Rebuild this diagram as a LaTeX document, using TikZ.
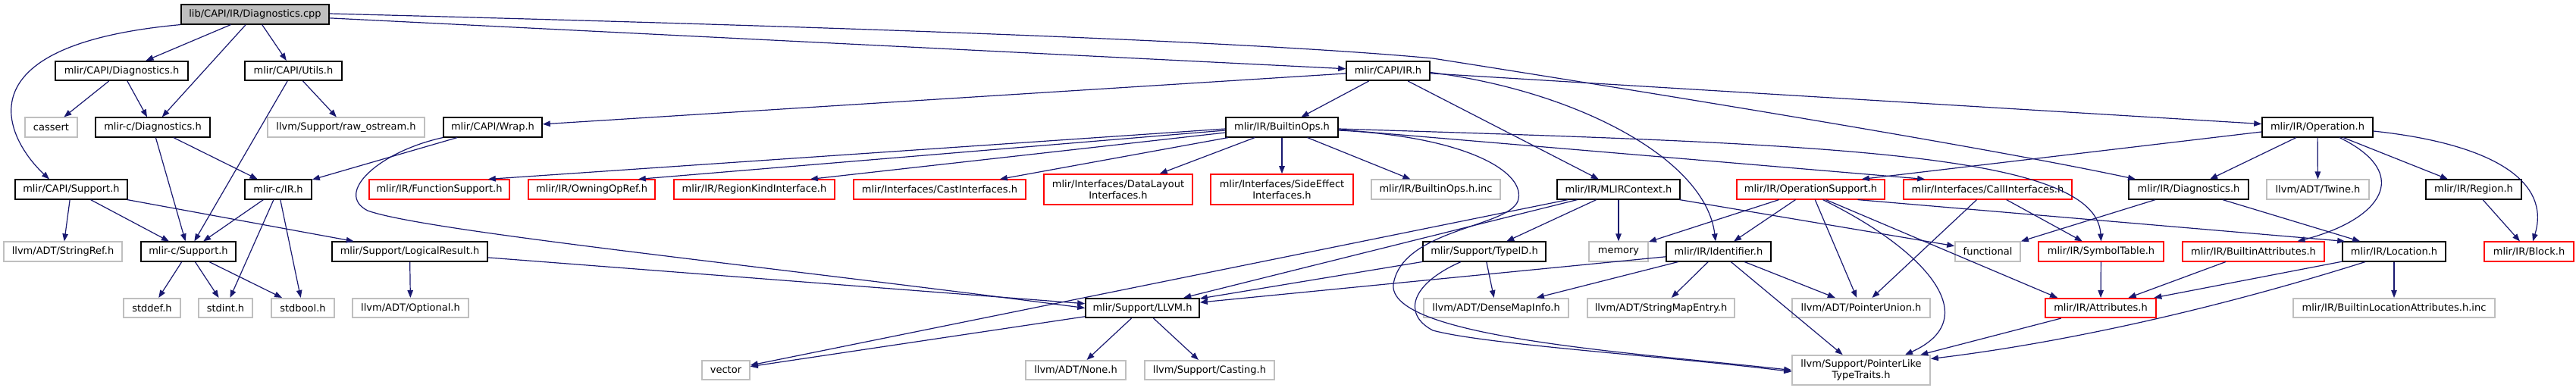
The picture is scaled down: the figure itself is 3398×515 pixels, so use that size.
\documentclass[tikz,border=0pt]{standalone}
\usepackage{fontspec}
\setmainfont{DejaVu Sans}
\usepackage{xcolor}
\usepackage{tikz}
\usetikzlibrary{arrows.meta}
\definecolor{edgeblue}{HTML}{191970}
\definecolor{extgray}{HTML}{BFBFBF}
\definecolor{truncred}{HTML}{FF0000}
\tikzset{
  filebox/.style={draw=black,fill=white,line width=1.6pt,inner sep=0pt,align=center,
    minimum height=25.5pt,font=\fontsize{13}{15.5}\selectfont},
  extbox/.style={filebox,draw=extgray},
  truncbox/.style={filebox,draw=truncred},
  rootbox/.style={filebox,fill=extgray},
  inclarrow/.style={-{Triangle[length=10pt,width=7.5pt]},draw=edgeblue,line width=1.2pt}
}

\begin{document}
\begin{tikzpicture}[x=1pt,y=-1pt]
  \useasboundingbox (0,0) rectangle (3398,515);

  \node[rootbox,minimum width=195pt] (root) at (336.5,19) {lib/CAPI/IR/Diagnostics.cpp};

  \node[filebox,minimum width=175pt] (capidiag) at (160.5,93.5) {mlir/CAPI/Diagnostics.h};
  \node[filebox,minimum width=128pt] (capiutils) at (387,93.5) {mlir/CAPI/Utils.h};
  \node[filebox,minimum width=110pt] (capiir) at (1831,93.5) {mlir/CAPI/IR.h};

  \node[extbox,minimum width=69pt] (cassert) at (67.5,168) {cassert};
  \node[filebox,minimum width=151pt] (cdiag) at (201.5,168) {mlir-c/Diagnostics.h};
  \node[extbox,minimum width=207pt] (rawos) at (456.5,168) {llvm/Support/raw\_ostream.h};
  \node[filebox,minimum width=130pt] (wrap) at (650,168) {mlir/CAPI/Wrap.h};
  \node[filebox,minimum width=148pt] (builtinops) at (1691,168) {mlir/IR/BuiltinOps.h};
  \node[filebox,minimum width=146pt] (operation) at (3057,168) {mlir/IR/Operation.h};

  \node[filebox,minimum width=148pt] (capisupport) at (94,250) {mlir/CAPI/Support.h};
  \node[filebox,minimum width=88pt] (cir) at (367,250) {mlir-c/IR.h};
  \node[truncbox,minimum width=185pt] (funcsupport) at (579.5,250) {mlir/IR/FunctionSupport.h};
  \node[truncbox,minimum width=167pt] (owningop) at (780.5,250) {mlir/IR/OwningOpRef.h};
  \node[truncbox,minimum width=212pt] (regionkind) at (995,250) {mlir/IR/RegionKindInterface.h};
  \node[truncbox,minimum width=227pt] (castif) at (1239.5,250) {mlir/Interfaces/CastInterfaces.h};
  \node[truncbox,minimum width=196pt,minimum height=40pt] (datalayout) at (1475,250) {mlir/Interfaces/DataLayout\\Interfaces.h};
  \node[truncbox,minimum width=188pt,minimum height=40pt] (sideeffect) at (1691,250) {mlir/Interfaces/SideEffect\\Interfaces.h};
  \node[extbox,minimum width=170pt] (opsinc) at (1894,250) {mlir/IR/BuiltinOps.h.inc};
  \node[filebox,minimum width=162pt] (mlircontext) at (2135,250) {mlir/IR/MLIRContext.h};
  \node[truncbox,minimum width=195pt] (opsupport) at (2388.5,250) {mlir/IR/OperationSupport.h};
  \node[truncbox,minimum width=222pt] (callif) at (2622,250) {mlir/Interfaces/CallInterfaces.h};
  \node[filebox,minimum width=158pt] (irdiag) at (2887,250) {mlir/IR/Diagnostics.h};
  \node[extbox,minimum width=135pt] (twine) at (3057.5,250) {llvm/ADT/Twine.h};
  \node[filebox,minimum width=126pt] (region) at (3263,250) {mlir/IR/Region.h};

  \node[extbox,minimum width=156pt] (stringref) at (83,332) {llvm/ADT/StringRef.h};
  \node[filebox,minimum width=125pt] (csupport) at (248.5,332) {mlir-c/Support.h};
  \node[filebox,minimum width=205pt] (logical) at (540.5,332) {mlir/Support/LogicalResult.h};
  \node[filebox,minimum width=162pt] (typeid) at (1958,332) {mlir/Support/TypeID.h};
  \node[extbox,minimum width=78pt] (memory) at (2135,332) {memory};
  \node[filebox,minimum width=138pt] (identifier) at (2267,332) {mlir/IR/Identifier.h};
  \node[extbox,minimum width=86pt] (functional) at (2622,332) {functional};
  \node[truncbox,minimum width=165pt] (symtable) at (2771.5,332) {mlir/IR/SymbolTable.h};
  \node[truncbox,minimum width=187pt] (builtinattr) at (2972.5,332) {mlir/IR/BuiltinAttributes.h};
  \node[filebox,minimum width=136pt] (location) at (3158,332) {mlir/IR/Location.h};
  \node[truncbox,minimum width=118pt] (block) at (3336,332) {mlir/IR/Block.h};

  \node[extbox,minimum width=75pt] (stddef) at (200.5,406.5) {stddef.h};
  \node[extbox,minimum width=71pt] (stdint) at (297.5,406.5) {stdint.h};
  \node[extbox,minimum width=83pt] (stdbool) at (399.5,406.5) {stdbool.h};
  \node[extbox,minimum width=153pt] (optional) at (541.5,406.5) {llvm/ADT/Optional.h};
  \node[filebox,minimum width=150pt] (llvmh) at (1507,406.5) {mlir/Support/LLVM.h};
  \node[extbox,minimum width=191pt] (densemap) at (1973.5,406.5) {llvm/ADT/DenseMapInfo.h};
  \node[extbox,minimum width=194pt] (stringmap) at (2191,406.5) {llvm/ADT/StringMapEntry.h};
  \node[extbox,minimum width=182pt] (ptrunion) at (2455,406.5) {llvm/ADT/PointerUnion.h};
  \node[truncbox,minimum width=146pt] (attributes) at (2771,406.5) {mlir/IR/Attributes.h};
  \node[extbox,minimum width=266pt] (locinc) at (3158,406.5) {mlir/IR/BuiltinLocationAttributes.h.inc};

  \node[extbox,minimum width=63pt] (vector) at (957.5,488.5) {vector};
  \node[extbox,minimum width=132pt] (none) at (1419,488.5) {llvm/ADT/None.h};
  \node[extbox,minimum width=171pt] (casting) at (1595.5,488.5) {llvm/Support/Casting.h};
  \node[extbox,minimum width=182pt,minimum height=39pt] (ptrlike) at (2455,488.5) {llvm/Support/PointerLike\\TypeTraits.h};

  \foreach \a/\b in {root/capidiag,root/cdiag,root/capiutils,root/capiir,
      capidiag/cassert,capidiag/cdiag,capiutils/csupport,capiutils/rawos,
      cdiag/csupport,cdiag/cir,capiir/wrap,capiir/builtinops,capiir/mlircontext,
      capiir/operation,wrap/cir,capisupport/stringref,capisupport/csupport,
      capisupport/logical,cir/csupport,cir/stdint,cir/stdbool,csupport/stddef,
      csupport/stdint,csupport/stdbool,logical/optional,logical/llvmh,
      builtinops/datalayout,builtinops/sideeffect,builtinops/opsinc,
      mlircontext/memory,mlircontext/functional,mlircontext/typeid,
      mlircontext/llvmh,mlircontext/vector,typeid/llvmh,typeid/densemap,
      operation/irdiag,operation/twine,operation/region,region/block,
      irdiag/functional,irdiag/location,opsupport/memory,opsupport/identifier,
      opsupport/ptrunion,callif/ptrunion,callif/symtable,identifier/llvmh,
      identifier/densemap,identifier/stringmap,identifier/ptrunion,
      identifier/ptrlike,symtable/attributes,builtinattr/attributes,
      location/attributes,location/locinc,attributes/ptrlike,llvmh/none,
      llvmh/casting,llvmh/vector}
    \draw[inclarrow] (\a) -- (\b);

  \draw[inclarrow] (root.south west) .. controls (-60,60) and (10,185) .. ([xshift=-29pt]capisupport.north);
  \draw[inclarrow] ([yshift=1pt]root.east) .. controls (900,30) and (1600,50) .. (1890,77)
    .. controls (2100,110) and (2600,190) .. ([xshift=-70pt]irdiag.north);
  \draw[inclarrow] ([yshift=-2pt]capiir.east) .. controls (2080,120) and (2250,210) .. ([xshift=-4pt]identifier.north);
  \draw[inclarrow] (wrap.south west) .. controls (500,200) and (440,255) .. (485,278)
    .. controls (560,305) and (1000,350) .. (llvmh.west);

  \draw[inclarrow] ([yshift=-2pt]builtinops.west) -- ([xshift=-29pt]funcsupport.north east);
  \draw[inclarrow] ([yshift=-4pt]builtinops.west) -- ([xshift=-23pt]owningop.north east);
  \draw[inclarrow] ([yshift=-7pt]builtinops.west) -- ([xshift=-33pt]regionkind.north east);
  \draw[inclarrow] ([xshift=4pt]builtinops.south west) -- ([xshift=-35pt]castif.north east);
  \draw[inclarrow] ([yshift=-3pt]builtinops.east) -- ([xshift=29pt]callif.north west);
  \draw[inclarrow] ([yshift=-2pt]builtinops.east) .. controls (2400,190) and (2765,200) .. (symtable.north);
  \draw[inclarrow] ([yshift=-4pt]builtinops.east) .. controls (1930,180) and (2010,225) .. (2003,262)
    .. controls (1998,300) and (1850,300) .. (1838,375)
    .. controls (1830,445) and (2150,465) .. (ptrlike.west);
  \draw[inclarrow] ([xshift=-31pt]typeid.south) .. controls (1860,375) and (1850,415) .. (1890,436)
    .. controls (1960,455) and (2200,470) .. ([yshift=-2pt]ptrlike.west);

  \draw[inclarrow] ([yshift=-6pt]operation.west) -- ([xshift=-31pt]opsupport.north east);
  \draw[inclarrow] ([yshift=-5pt]operation.east) .. controls (3290,190) and (3365,240) .. ([xshift=5pt]block.north);
  \draw[inclarrow] ([xshift=29pt]operation.south) .. controls (3185,230) and (3140,290) .. ([xshift=58pt]builtinattr.north);

  \draw[inclarrow] ([xshift=16pt]opsupport.south) .. controls (2540,330) and (2620,420) .. ([xshift=58pt]ptrlike.north);
  \draw[inclarrow] ([xshift=20pt]opsupport.south) -- ([xshift=-57pt]attributes.north);
  \draw[inclarrow] ([xshift=62pt]opsupport.south) -- ([xshift=4pt]location.north west);
  \draw[inclarrow] ([xshift=-38pt]location.south) .. controls (2900,415) and (2700,455) .. ([yshift=15pt]ptrlike.east);
\end{tikzpicture}
\end{document}
